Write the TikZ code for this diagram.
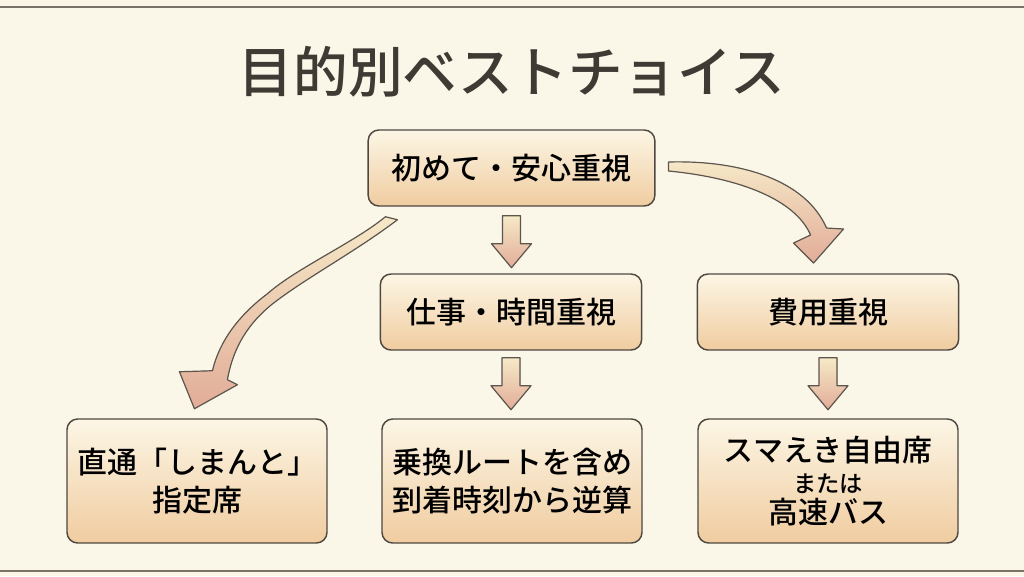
\documentclass[tikz,border=0pt]{standalone}
\usepackage{fontspec}
\setmainfont{Noto Sans CJK JP}
\newfontfamily\medfont{Noto Sans CJK JP Medium}
\usetikzlibrary{calc}

\definecolor{paper}{RGB}{251,247,232}
\definecolor{framecol}{RGB}{120,114,104}
\definecolor{titlecol}{RGB}{62,58,52}
\definecolor{boxline}{RGB}{78,72,64}
\definecolor{boxtop}{RGB}{252,246,229}
\definecolor{boxbot}{RGB}{240,204,160}
\definecolor{arrline}{RGB}{92,86,78}
\definecolor{arrtop}{RGB}{246,233,200}
\definecolor{arrbot}{RGB}{226,172,152}

\tikzset{
  choice/.style={draw=boxline, line width=1.1pt, rounded corners=8pt, top color=boxtop, bottom color=boxbot, align=center, inner sep=0pt, text=black, font=\fontsize{22.5}{28.5}\selectfont\medfont},
  midbox/.style={choice, minimum width=196pt, minimum height=57pt},
  lowbox/.style={choice, minimum width=195pt, minimum height=93pt},
  fatarrow/.style={draw=arrline, line width=0.9pt, line join=round, top color=arrtop, bottom color=arrbot}
}

\begin{document}
\begin{tikzpicture}[x=0.75pt,y=0.75pt,yscale=-1]
        \useasboundingbox (0,0) rectangle (1024,576);
        \fill[paper] (0,0) rectangle (1024,576);
        \draw[framecol, line width=0.9pt] (0,7) -- (1024,7);
        \draw[framecol, line width=0.9pt] (0,571) -- (1024,571);

        % Title
        \node[text=titlecol, font=\fontsize{41}{48}\selectfont\medfont] (title) at (512,72) {目的別ベストチョイス};

        % Boxes
        \node[choice, minimum width=215pt, minimum height=57pt] (first) at (511.5,168) {初めて・安心重視};
        \node[midbox] (work) at (511,312) {仕事・時間重視};
        \node[midbox] (cost) at (828,312) {費用重視};
        \node[lowbox] (direct) at (197,481) {直通「しまんと」\\指定席};
        \node[lowbox] (transfer) at (512,481) {乗換ルートを含め\\到着時刻から逆算};
        \node[lowbox, font=\fontsize{22.5}{23}\selectfont\medfont] (cheap) at (828,481) {スマえき自由席\\{\fontsize{17.5}{20}\selectfont または}\\高速バス};

        % Straight arrows
        \filldraw[fatarrow, shift={($(first.south)+(0,9)$)}] (-9,0) -- (-9,28) -- (-20,28) -- (0,52) -- (20,28) -- (9,28) -- (9,0) -- cycle;
        \filldraw[fatarrow, shift={($(work.south)+(0,7)$)}] (-9,0) -- (-9,28) -- (-20,28) -- (0,52) -- (20,28) -- (9,28) -- (9,0) -- cycle;
        \filldraw[fatarrow, shift={($(cost.south)+(0,7)$)}] (-9,0) -- (-9,28) -- (-20,28) -- (0,52) -- (20,28) -- (9,28) -- (9,0) -- cycle;

        % Curved arrows
        \coordinate (ltail) at ($(first.south west)+(18,10)$);
        \coordinate (rtail) at ($(first.east)+(13,-6)$);
        \filldraw[fatarrow, shift={(ltail)}] (0,0) .. controls (-30,25) and (-90,52) .. (-118,77) .. controls (-146,98) and (-166,124) .. (-173,154) -- (-206,155) -- (-191,192) -- (-148,168) -- (-158,163) .. controls (-152,129) and (-136,106) .. (-114,88) .. controls (-81,62) and (-30,35) .. (12,3) -- cycle;
        \filldraw[fatarrow, shift={(rtail)}] (0,0) .. controls (72,-2) and (137,18) .. (158,66) -- (175,67) -- (145,101) -- (125,81) -- (142,73) .. controls (127,38) and (72,16) .. (0,9) -- cycle;

\end{tikzpicture}
\end{document}
